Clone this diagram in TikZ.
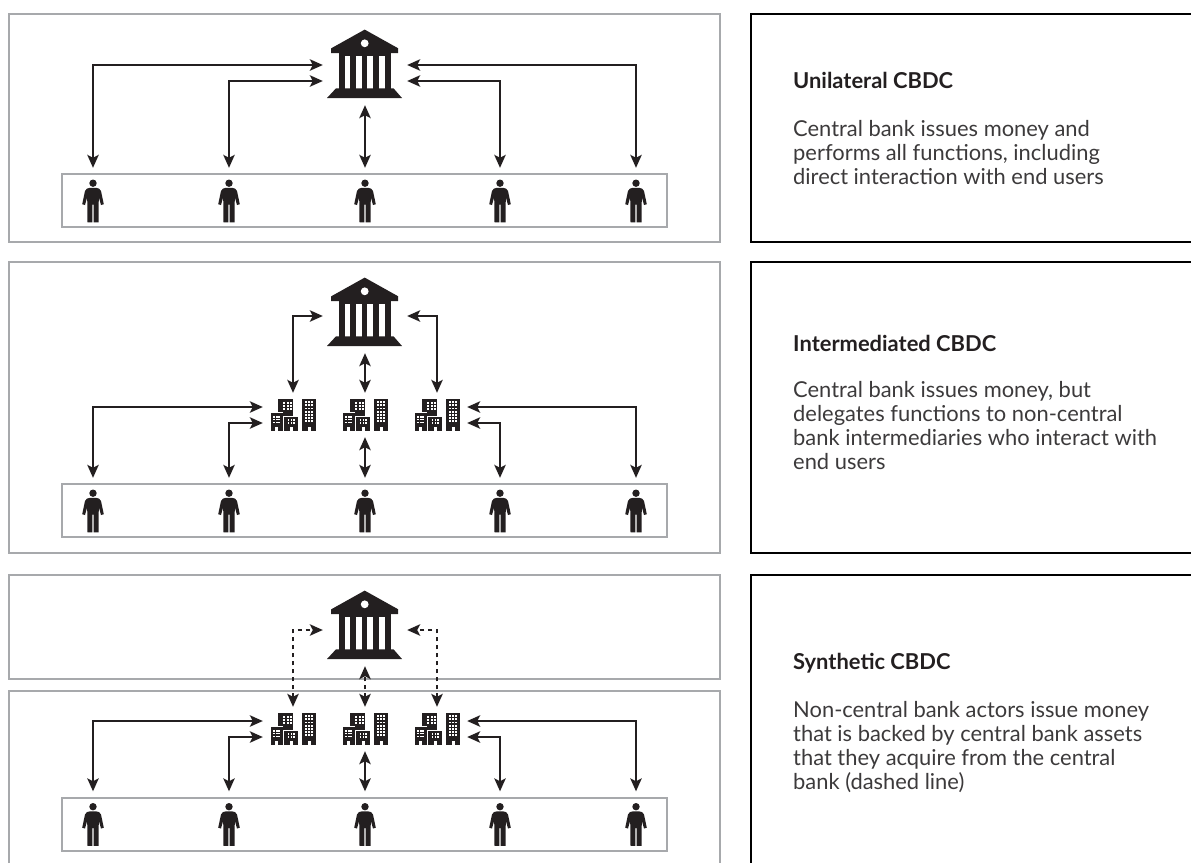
\documentclass[tikz,border=0pt]{standalone}
\usepackage{fontspec}
\setmainfont{Lato}
\usetikzlibrary{arrows.meta}
\definecolor{ink}{HTML}{231F20}
\definecolor{frame}{HTML}{A7A9AC}
\definecolor{body}{HTML}{3C3A3B}
\tikzset{
    link/.style={draw=ink, line width=1.6pt, {Stealth[length=13pt,width=11.5pt,inset=3pt]}-{Stealth[length=13pt,width=11.5pt,inset=3pt]}},
    bank/.style={inner sep=0pt, minimum width=84pt, minimum height=82pt, path picture={
        \begin{scope}[shift={(path picture bounding box.center)}]
            \fill[ink] (-0.3,-34.4) -- (33.2,-15.7) -- (33.2,-11) -- (-33.8,-11) -- (-33.8,-15.7) -- cycle;
            \fill[white] (-0.3,-20.7) circle (3.9);
            \fill[ink] (-25.7,-12) rectangle (25.7,-8);
            \foreach \cx in {-22.9,-12,-0.5,11.2,22.9}
                \fill[ink] (\cx-2.9,-9) rectangle (\cx+2.9,25);
            \fill[ink] (-29,24.3) -- (28.5,24.3) -- (37,34) -- (-38,34) -- cycle;
        \end{scope}}},
    person/.style={inner sep=0pt, minimum width=26pt, minimum height=66pt, path picture={
        \begin{scope}[shift={(path picture bounding box.center)}]
            \fill[ink] (0,-17.8) circle (3.7);
            \fill[ink] (-3,-13.2) -- (3,-13.2) to[out=0,in=110] (8,-10) -- (10.8,3.2) -- (8,4) -- (5.8,-4)
                -- (5.5,21.3) -- (0.7,21.3) -- (0.7,3.5) -- (-0.7,3.5) -- (-0.7,21.3) -- (-5.5,21.3) -- (-5.8,-4)
                -- (-8,4) -- (-10.8,3.2) -- (-8,-10) to[out=70,in=180] cycle;
        \end{scope}}},
    firms/.style={inner sep=0pt, minimum width=60pt, minimum height=44pt, path picture={
        \begin{scope}[shift={(path picture bounding box.center)}]
            % back block, front blocks, tower
            \fill[ink] (-14.7,-15.7) rectangle (-0.5,8);
            \fill[white] (-23,-2.7) rectangle (-9.7,15.7);
            \fill[white] (-9.7,0.7) rectangle (6.3,15.7);
            \fill[ink] (-22.5,-1.8) rectangle (-10.4,15.7);
            \fill[ink] (-8.7,1.7) rectangle (5.3,15.7);
            \fill[ink] (8.9,-15.7) rectangle (22.8,15.7);
            % windows
            \foreach \wx in {-10.2,-6.2,-2.9} \foreach \wy in {-13,-9.8,-6.6} \fill[white] (\wx,\wy) rectangle +(1.9,1.9);
            \foreach \wx in {-19.6,-17.1,-14.6} \foreach \wy in {1,3.8,6.6} \fill[white] (\wx,\wy) rectangle +(1.6,1.6);
            \foreach \wx in {-5.2,-2.5,0.2} \foreach \wy in {4.4,7.2} \fill[white] (\wx,\wy) rectangle +(1.6,1.6);
            \foreach \wx in {12,15.2,18.4} \foreach \wy in {-13.8,-10.6,-7.4,-4.2,-1,2.2,5.4} \fill[white] (\wx,\wy) rectangle +(1.7,1.7);
            % doors
            \foreach \wx in {-17.8,-3.1,14.5} \fill[white] (\wx,11.5) rectangle +(3,4.5);
        \end{scope}}},
    panel/.style={draw=frame, line width=1.5pt},
    note/.style={draw=black, line width=1.5pt},
    caption/.style={anchor=base west, inner sep=0pt, align=left, text=body, font=\fontsize{21.9}{23.7}\selectfont},
    title/.style={anchor=base west, inner sep=0pt, text=ink, font=\fontsize{21.9}{24}\selectfont\bfseries}
}
\begin{document}
\begin{tikzpicture}[x=1pt,y=-1pt]
    \useasboundingbox (0,0) rectangle (1191,863);
    % frames
    \draw[panel] (9,14) rectangle (720,242);
    \draw[panel] (9,262) rectangle (720,553);
    \draw[panel] (9,575) rectangle (720,679);
    \draw[panel] (9,863) -- (9,691) -- (720,691) -- (720,863);
    \draw[panel] (62,174) rectangle (667,227);
    \draw[panel] (62,484) rectangle (667,537);
    \draw[panel] (62,798) rectangle (667,851);
    \draw[note] (1191,14) -- (751,14) -- (751,242) -- (1191,242);
    \draw[note] (1191,262) -- (751,262) -- (751,553) -- (1191,553);
    \draw[note] (1191,575) -- (751,575) -- (751,863);
    % banks
    \node[bank] (bankA) at (365,64) {};
    \node[bank] (bankB) at (365,312) {};
    \node[bank] (bankC) at (365,625) {};
    % intermediaries
    \foreach \nm/\px in {1/293,2/365,3/437} {
        \node[firms] (firmB\nm) at (\px,415) {};
        \node[firms] (firmC\nm) at (\px,729) {};
    }
    % end users
    \foreach \nm/\px in {1/93,2/229,3/365,4/500,5/636} {
        \node[person] (userA\nm) at (\px,201) {};
        \node[person] (userB\nm) at (\px,511) {};
        \node[person] (userC\nm) at (\px,824.5) {};
    }
    % unilateral
    \draw[link] (userA1.north) |- ([yshift=-1pt]bankA.west);
    \draw[link] (userA2.north) |- ([yshift=-17pt]bankA.west);
    \draw[link] (userA3.north) -- (bankA.south);
    \draw[link] (userA4.north) |- ([yshift=-17pt]bankA.east);
    \draw[link] (userA5.north) |- ([yshift=-1pt]bankA.east);
    % intermediated
    \draw[link] (firmB1.north) |- ([yshift=-4pt]bankB.west);
    \draw[link] (firmB2.north) -- (bankB.south);
    \draw[link] (firmB3.north) |- ([yshift=-4pt]bankB.east);
    \draw[link] (userB1.north) |- ([yshift=8pt]firmB1.west);
    \draw[link] (userB2.north) |- ([yshift=-8pt]firmB1.west);
    \draw[link] (userB3.north) -- (firmB2.south);
    \draw[link] (userB4.north) |- ([yshift=-8pt]firmB3.east);
    \draw[link] (userB5.north) |- ([yshift=8pt]firmB3.east);
    % synthetic
    \draw[link, dash pattern=on 4pt off 4pt] (firmC1.north) |- ([yshift=-5pt]bankC.west);
    \draw[link, dash pattern=on 4pt off 4pt] (firmC2.north) -- (bankC.south);
    \draw[link, dash pattern=on 4pt off 4pt] (firmC3.north) |- ([yshift=-5pt]bankC.east);
    \draw[link] (userC1.north) |- ([yshift=8pt]firmC1.west);
    \draw[link] (userC2.north) |- ([yshift=-8pt]firmC1.west);
    \draw[link] (userC3.north) -- (firmC2.south);
    \draw[link] (userC4.north) |- ([yshift=-8pt]firmC3.east);
    \draw[link] (userC5.north) |- ([yshift=8pt]firmC3.east);
    % texts
    \node[title] (titleA) at (793,88.5) {Unilateral CBDC};
    \node[caption] (textA) at (793,184) {Central bank issues money and\\performs all functions, including\\direct interaction with end users};
    \node[title] (titleB) at (793,351.5) {Intermediated CBDC};
    \node[caption] (textB) at (793,469) {Central bank issues money, but\\delegates functions to non-central\\bank intermediaries who interact with\\end users};
    \node[title] (titleC) at (793,669) {Synthetic CBDC};
    \node[caption] (textC) at (793,789) {Non-central bank actors issue money\\that is backed by central bank assets\\that they acquire from the central\\bank (dashed line)};
\end{tikzpicture}
\end{document}
